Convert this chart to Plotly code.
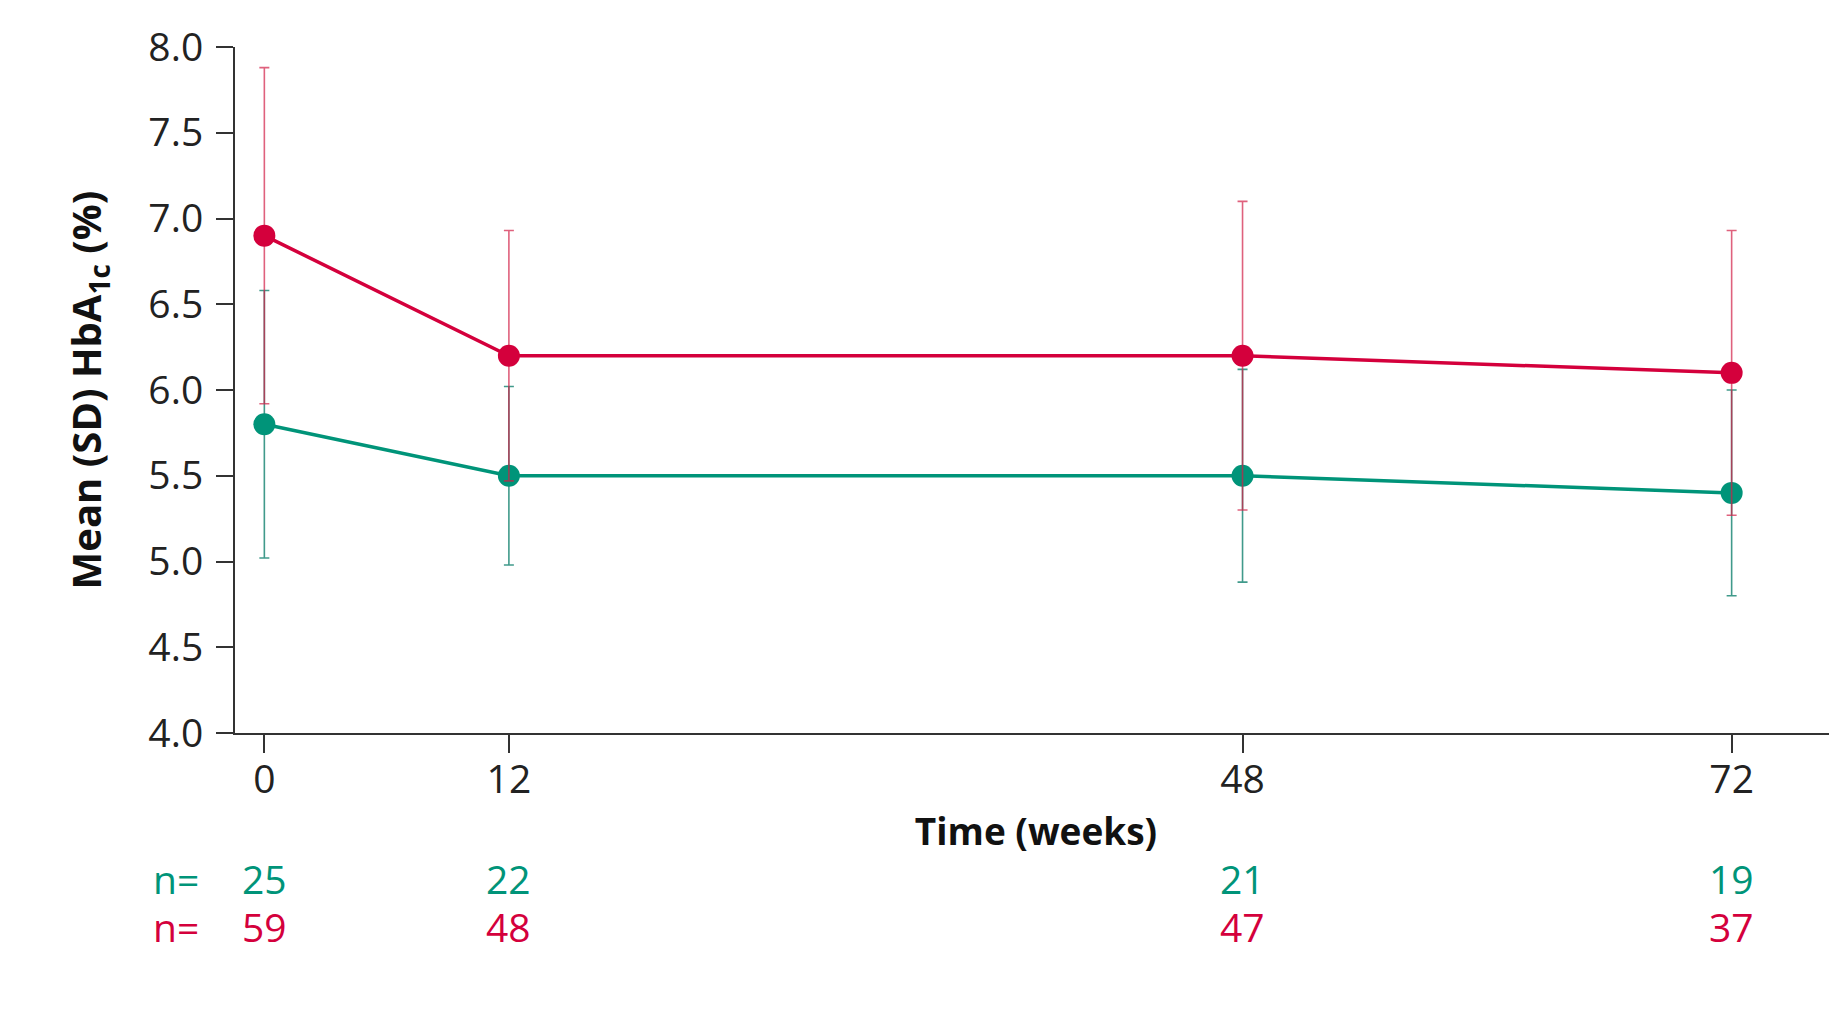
import plotly.graph_objects as go

weeks = [0, 12, 48, 72]
tick_labels = ["0", "12", "48", "72"]

green_mean = [5.8, 5.5, 5.5, 5.4]
green_sd = [0.78, 0.52, 0.62, 0.6]
green_n = [25, 22, 21, 19]

red_mean = [6.9, 6.2, 6.2, 6.1]
red_sd = [0.98, 0.73, 0.9, 0.83]
red_n = [59, 48, 47, 37]

y_ticks = [4.0, 4.5, 5.0, 5.5, 6.0, 6.5, 7.0, 7.5, 8.0]

GREEN = "#009479"
RED = "#d4003c"
FONT = "Open Sans"
FS = 39

fig = go.Figure()

fig.add_trace(go.Scatter(
    x=weeks, y=green_mean, mode="lines+markers",
    line=dict(color=GREEN, width=3.5),
    marker=dict(color=GREEN, size=22),
    error_y=dict(type="data", array=green_sd, visible=True,
                 color="rgba(0,120,100,0.75)", thickness=1.6, width=5),
    showlegend=False, cliponaxis=False,
))
fig.add_trace(go.Scatter(
    x=weeks, y=red_mean, mode="lines+markers",
    line=dict(color=RED, width=3.5),
    marker=dict(color=RED, size=22),
    error_y=dict(type="data", array=red_sd, visible=True,
                 color="rgba(210,30,70,0.7)", thickness=1.6, width=5),
    showlegend=False, cliponaxis=False,
))

annotations = []
for label, color, yp in [("n=", GREEN, -0.212), ("n=", RED, -0.282)]:
    annotations.append(dict(text=label, xref="paper", yref="paper", x=-0.037, y=yp,
                            showarrow=False, font=dict(family=FONT, size=FS, color=color),
                            xanchor="center", yanchor="middle"))
for w, g, r in zip(weeks, green_n, red_n):
    annotations.append(dict(text=str(g), xref="x", yref="paper", x=w, y=-0.212,
                            showarrow=False, font=dict(family=FONT, size=FS, color=GREEN),
                            xanchor="center", yanchor="middle"))
    annotations.append(dict(text=str(r), xref="x", yref="paper", x=w, y=-0.282,
                            showarrow=False, font=dict(family=FONT, size=FS, color=RED),
                            xanchor="center", yanchor="middle"))

fig.update_layout(
    width=1829, height=1010,
    margin=dict(l=227, r=0, t=39, b=285, pad=0),
    paper_bgcolor="white", plot_bgcolor="white",
    font=dict(family=FONT, size=FS, color="#222222"),
    annotations=annotations,
    xaxis=dict(
        range=[-1.44, 77.17], tickvals=weeks, ticktext=tick_labels,
        showline=True, linecolor="#333333", linewidth=2,
        ticks="outside", ticklen=18, tickwidth=1.5, tickcolor="#333333",
        showgrid=False, zeroline=False, ticklabelstandoff=-7,
        title=dict(text="<b>Time (weeks)</b>", font=dict(family=FONT, size=37, color="#111111"),
                   standoff=16),
    ),
    yaxis=dict(
        range=[4, 8], tickvals=y_ticks, ticktext=[f"{v:.1f}" for v in y_ticks],
        showline=True, linecolor="#333333", linewidth=2,
        ticks="outside", ticklen=17, tickwidth=1.5, tickcolor="#333333",
        showgrid=False, zeroline=False, ticklabelstandoff=5,
        title=dict(text="<b>Mean (SD) HbA<sub>1c</sub> (%)</b>",
                   font=dict(family=FONT, size=40, color="#111111"), standoff=34),
    ),
)

fig.write_html("out.html")
